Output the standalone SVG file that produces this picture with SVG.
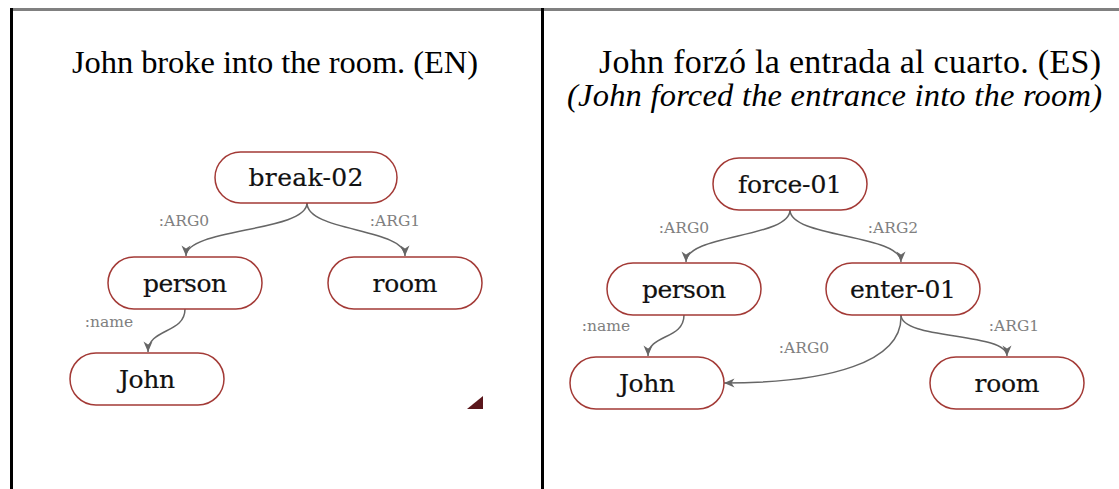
<svg xmlns="http://www.w3.org/2000/svg" width="1119" height="489" viewBox="0 0 1119 489">
  <style>
    .title { font-family: "Liberation Serif", "Times New Roman", serif; font-size: 32.5px; fill: #000; }
    .title-es { font-size: 34px; }
    .title-it { font-family: "Liberation Serif", "Times New Roman", serif; font-size: 32.5px; font-style: italic; fill: #000; }
    .node rect { fill: #fff; stroke: #a33a36; stroke-width: 1.5; }
    .node text { font-family: "DejaVu Serif", "Liberation Serif", serif; font-size: 25px; fill: #111; stroke: #111; stroke-width: 0.2; text-anchor: middle; }
    .edge { fill: none; stroke: #666; stroke-width: 1.5; marker-end: url(#arrow); }
    .lbl { font-family: "DejaVu Serif", "Liberation Serif", serif; font-size: 15.5px; fill: #808080; text-anchor: middle; }
  </style>
  <defs>
    <marker id="arrow" markerUnits="userSpaceOnUse" markerWidth="12" markerHeight="11" refX="11" refY="5.5" orient="auto">
      <path d="M0.5,1 L11,5.5 L0.5,10 L3.5,5.5 Z" fill="#666"/>
    </marker>
  </defs>

  <!-- frame -->
  <rect x="10" y="8" width="1109" height="3" fill="#808080"/>
  <rect x="10" y="8" width="3" height="481" fill="#000"/>
  <rect x="541" y="8" width="3" height="481" fill="#000"/>

  <!-- titles -->
  <text class="title" x="72" y="73" textLength="406" lengthAdjust="spacing">John broke into the room. (EN)</text>
  <text class="title title-es" x="599" y="73" textLength="502" lengthAdjust="spacing">John forzó la entrada al cuarto. (ES)</text>
  <text class="title-it" x="567" y="106" textLength="535" lengthAdjust="spacing">(John forced the entrance into the room)</text>

  <!-- connectors -->
  <g id="edges">
    <path class="edge" d="M307,203 C307,232 186,228 186,256"/>
    <path class="edge" d="M307,203 C307,232 405,228 405,256"/>
    <path class="edge" d="M185,309 C185,334 148,328 148,352"/>

    <path class="edge" d="M790,210 C790,238 686,234 686,262"/>
    <path class="edge" d="M790,210 C790,238 901,234 901,262"/>
    <path class="edge" d="M684,315 C684,340 648,334 648,356"/>
    <path class="edge" d="M901,315 C903,362 830,383 724,383"/>
    <path class="edge" d="M901,315 C901,340 1007,332 1007,356"/>
  </g>

  <g id="edge-labels">
    <text class="lbl" x="184" y="226">:ARG0</text>
    <text class="lbl" x="395" y="226">:ARG1</text>
    <text class="lbl" x="109" y="327">:name</text>

    <text class="lbl" x="684" y="233">:ARG0</text>
    <text class="lbl" x="893" y="233">:ARG2</text>
    <text class="lbl" x="606" y="331">:name</text>
    <text class="lbl" x="804" y="353">:ARG0</text>
    <text class="lbl" x="1014" y="331">:ARG1</text>
  </g>

  <!-- EN graph -->
  <g id="en-break" class="node">
    <rect x="215" y="152" width="182" height="51" rx="25.5"/>
    <text x="306" y="186" textLength="115" lengthAdjust="spacing">break-02</text>
  </g>
  <g id="en-person" class="node">
    <rect x="108" y="257" width="154" height="52" rx="26"/>
    <text x="185" y="292" textLength="84" lengthAdjust="spacing">person</text>
  </g>
  <g id="en-room" class="node">
    <rect x="328" y="257" width="154" height="52" rx="26"/>
    <text x="405" y="292" textLength="65" lengthAdjust="spacing">room</text>
  </g>
  <g id="en-john" class="node">
    <rect x="70" y="353" width="154" height="52" rx="26"/>
    <text x="147" y="388" textLength="56" lengthAdjust="spacing">John</text>
  </g>

  <!-- ES graph -->
  <g id="es-force" class="node">
    <rect x="713" y="158" width="154" height="52" rx="26"/>
    <text x="790" y="193" textLength="104" lengthAdjust="spacing">force-01</text>
  </g>
  <g id="es-person" class="node">
    <rect x="607" y="263" width="154" height="52" rx="26"/>
    <text x="684" y="298" textLength="84" lengthAdjust="spacing">person</text>
  </g>
  <g id="es-enter" class="node">
    <rect x="826" y="263" width="154" height="52" rx="26"/>
    <text x="903" y="298" textLength="106" lengthAdjust="spacing">enter-01</text>
  </g>
  <g id="es-john" class="node">
    <rect x="570" y="357" width="154" height="52" rx="26"/>
    <text x="647" y="392" textLength="56" lengthAdjust="spacing">John</text>
  </g>
  <g id="es-room" class="node">
    <rect x="930" y="357" width="154" height="52" rx="26"/>
    <text x="1007" y="392" textLength="65" lengthAdjust="spacing">room</text>
  </g>

  <!-- corner mark -->
  <polygon points="467,409 483,396 483,409" fill="#5a161b"/>
</svg>
